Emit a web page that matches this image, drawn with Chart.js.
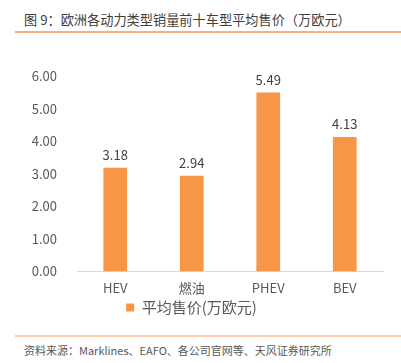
<!DOCTYPE html>
<html>
<head>
<meta charset="utf-8">
<script src="https://cdn.jsdelivr.net/npm/chart.js@4"></script>
<style>
  body { margin: 0; background: #fff; font-family: "Noto Sans CJK SC", sans-serif; }
  #wrap { position: relative; width: 401px; height: 363px; overflow: hidden; }
  #title { position: absolute; left: 24px; top: 10px; font-size: 13.2px; color: #404040; white-space: pre; }
  #line1 { position: absolute; left: 15px; right: 0; top: 31px; height: 2px; background: #F4B183; }
  #line2 { position: absolute; left: 15px; right: 0; top: 335px; height: 2px; background: #F8CBAD; }
  #src { position: absolute; left: 24px; top: 342px; font-size: 11px; color: #595959; white-space: nowrap; }
  #chartBox { position: absolute; left: 0; top: 40px; width: 401px; height: 290px; }
</style>
</head>
<body>
<div id="wrap">
  <div id="title">图 9：欧洲各动力类型销量前十车型平均售价（万欧元）</div>
  <div id="line1"></div>
  <div id="chartBox"><canvas id="myChart"></canvas></div>
  <div id="line2"></div>
  <div id="src">资料来源：Marklines、EAFO、各公司官网等、天风证券研究所</div>
</div>
<script>
const categories = ["HEV", "燃油", "PHEV", "BEV"];
const avgPrice = [3.18, 2.94, 5.49, 4.13];
const seriesName = "平均售价(万欧元)";

const valueLabels = {
  id: "valueLabels",
  afterDatasetsDraw(chart) {
    const ctx = chart.ctx;
    const meta = chart.getDatasetMeta(0);
    ctx.save();
    ctx.fillStyle = "#404040";
    ctx.font = "13px 'Noto Sans CJK SC'";
    ctx.textAlign = "center";
    ctx.textBaseline = "bottom";
    meta.data.forEach((bar, i) => {
      ctx.fillText(avgPrice[i].toFixed(2), bar.x, bar.y - 6);
    });
    ctx.restore();
  }
};

new Chart(document.getElementById("myChart"), {
  type: "bar",
  data: {
    labels: categories,
    datasets: [{
      label: seriesName,
      data: avgPrice,
      backgroundColor: "#F79646",
      barPercentage: 0.62,
      categoryPercentage: 0.5
    }]
  },
  options: {
    responsive: true,
    maintainAspectRatio: false,
    animation: false,
    layout: { padding: { top: 36, right: 18, bottom: 5, left: 0 } },
    plugins: {
      legend: {
        position: "bottom",
        labels: {
          boxWidth: 8, boxHeight: 8, padding: 3,
          color: "#595959",
          font: { family: "'Noto Sans CJK SC'", size: 15 }
        }
      },
      tooltip: { enabled: false }
    },
    scales: {
      x: {
        grid: { display: false },
        border: { display: true, color: "#D9D9D9" },
        ticks: { color: "#595959", padding: 1, font: { family: "'Noto Sans CJK SC'", size: 13 } }
      },
      y: {
        min: 0, max: 6,
        afterFit(scale) { scale.width = 77; },
        grid: { display: false },
        border: { display: false },
        ticks: {
          stepSize: 1, padding: 12, color: "#595959",
          font: { family: "'Noto Sans CJK SC'", size: 13 },
          callback: v => v.toFixed(2)
        }
      }
    }
  },
  plugins: [valueLabels]
});
</script>
</body>
</html>
